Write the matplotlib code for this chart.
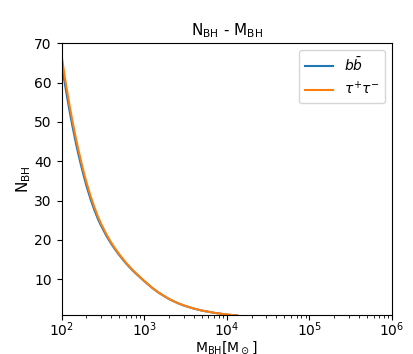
import matplotlib
matplotlib.use('Agg')
import matplotlib.pyplot as plt

# values (M_BH in solar masses, N_BH)
m_bh = [100, 105, 110, 118, 125, 135, 150, 162, 175, 190, 200, 225, 250, 275, 300,
        350, 400, 450, 500, 600, 700, 800, 1000, 1250, 1500, 2000, 2500, 3000,
        4000, 5000, 7000, 10000, 13500]
n_tautau = [67.0, 64.0, 61.1, 57.3, 54.2, 50.4, 45.6, 42.4, 39.4, 36.4, 34.7, 31.1, 28.3, 26.0, 24.2,
            21.4, 19.3, 17.7, 16.35, 14.26, 12.7, 11.5, 9.62, 7.87, 6.62, 5.01, 4.04, 3.38,
            2.56, 2.06, 1.49, 1.05, 0.79]
n_bb = [65.0, 62.3, 59.5, 55.8, 52.8, 49.1, 44.4, 41.3, 38.4, 35.5, 33.8, 30.3, 27.6, 25.4, 23.7,
        21.0, 19.0, 17.45, 16.15, 14.1, 12.57, 11.4, 9.55, 7.82, 6.58, 4.98, 4.02, 3.36,
        2.55, 2.05, 1.49, 1.05, 0.79]

fig = plt.figure(figsize=(4.13, 3.54), dpi=100)
ax = fig.add_axes([0.149, 0.111, 0.800, 0.767])

ax.plot(m_bh, n_bb, label=r'$b\bar{b}$')
ax.plot(m_bh, n_tautau, label=r'$\tau^{+}\tau^{-}$')

ax.set_xscale('log')
ax.set_xlim(1e2, 1e6)
ax.set_ylim(1, 70)

ax.set_title(r'N$_{\rm BH}$ - M$_{\rm BH}$', fontsize=11)
ax.set_xlabel(r'M$_{\rm BH}$[M$_\odot$]', fontsize=10)
ax.xaxis.set_label_coords(0.5, -0.09)
ax.set_ylabel(r'N$_{\rm BH}$', fontsize=11)
ax.yaxis.set_label_coords(-0.085, 0.5)
ax.tick_params(labelsize=10)
ax.tick_params(axis='x', pad=0.5)
ax.legend(loc='upper right', fontsize=10)

fig.savefig('out.png', dpi=100)
